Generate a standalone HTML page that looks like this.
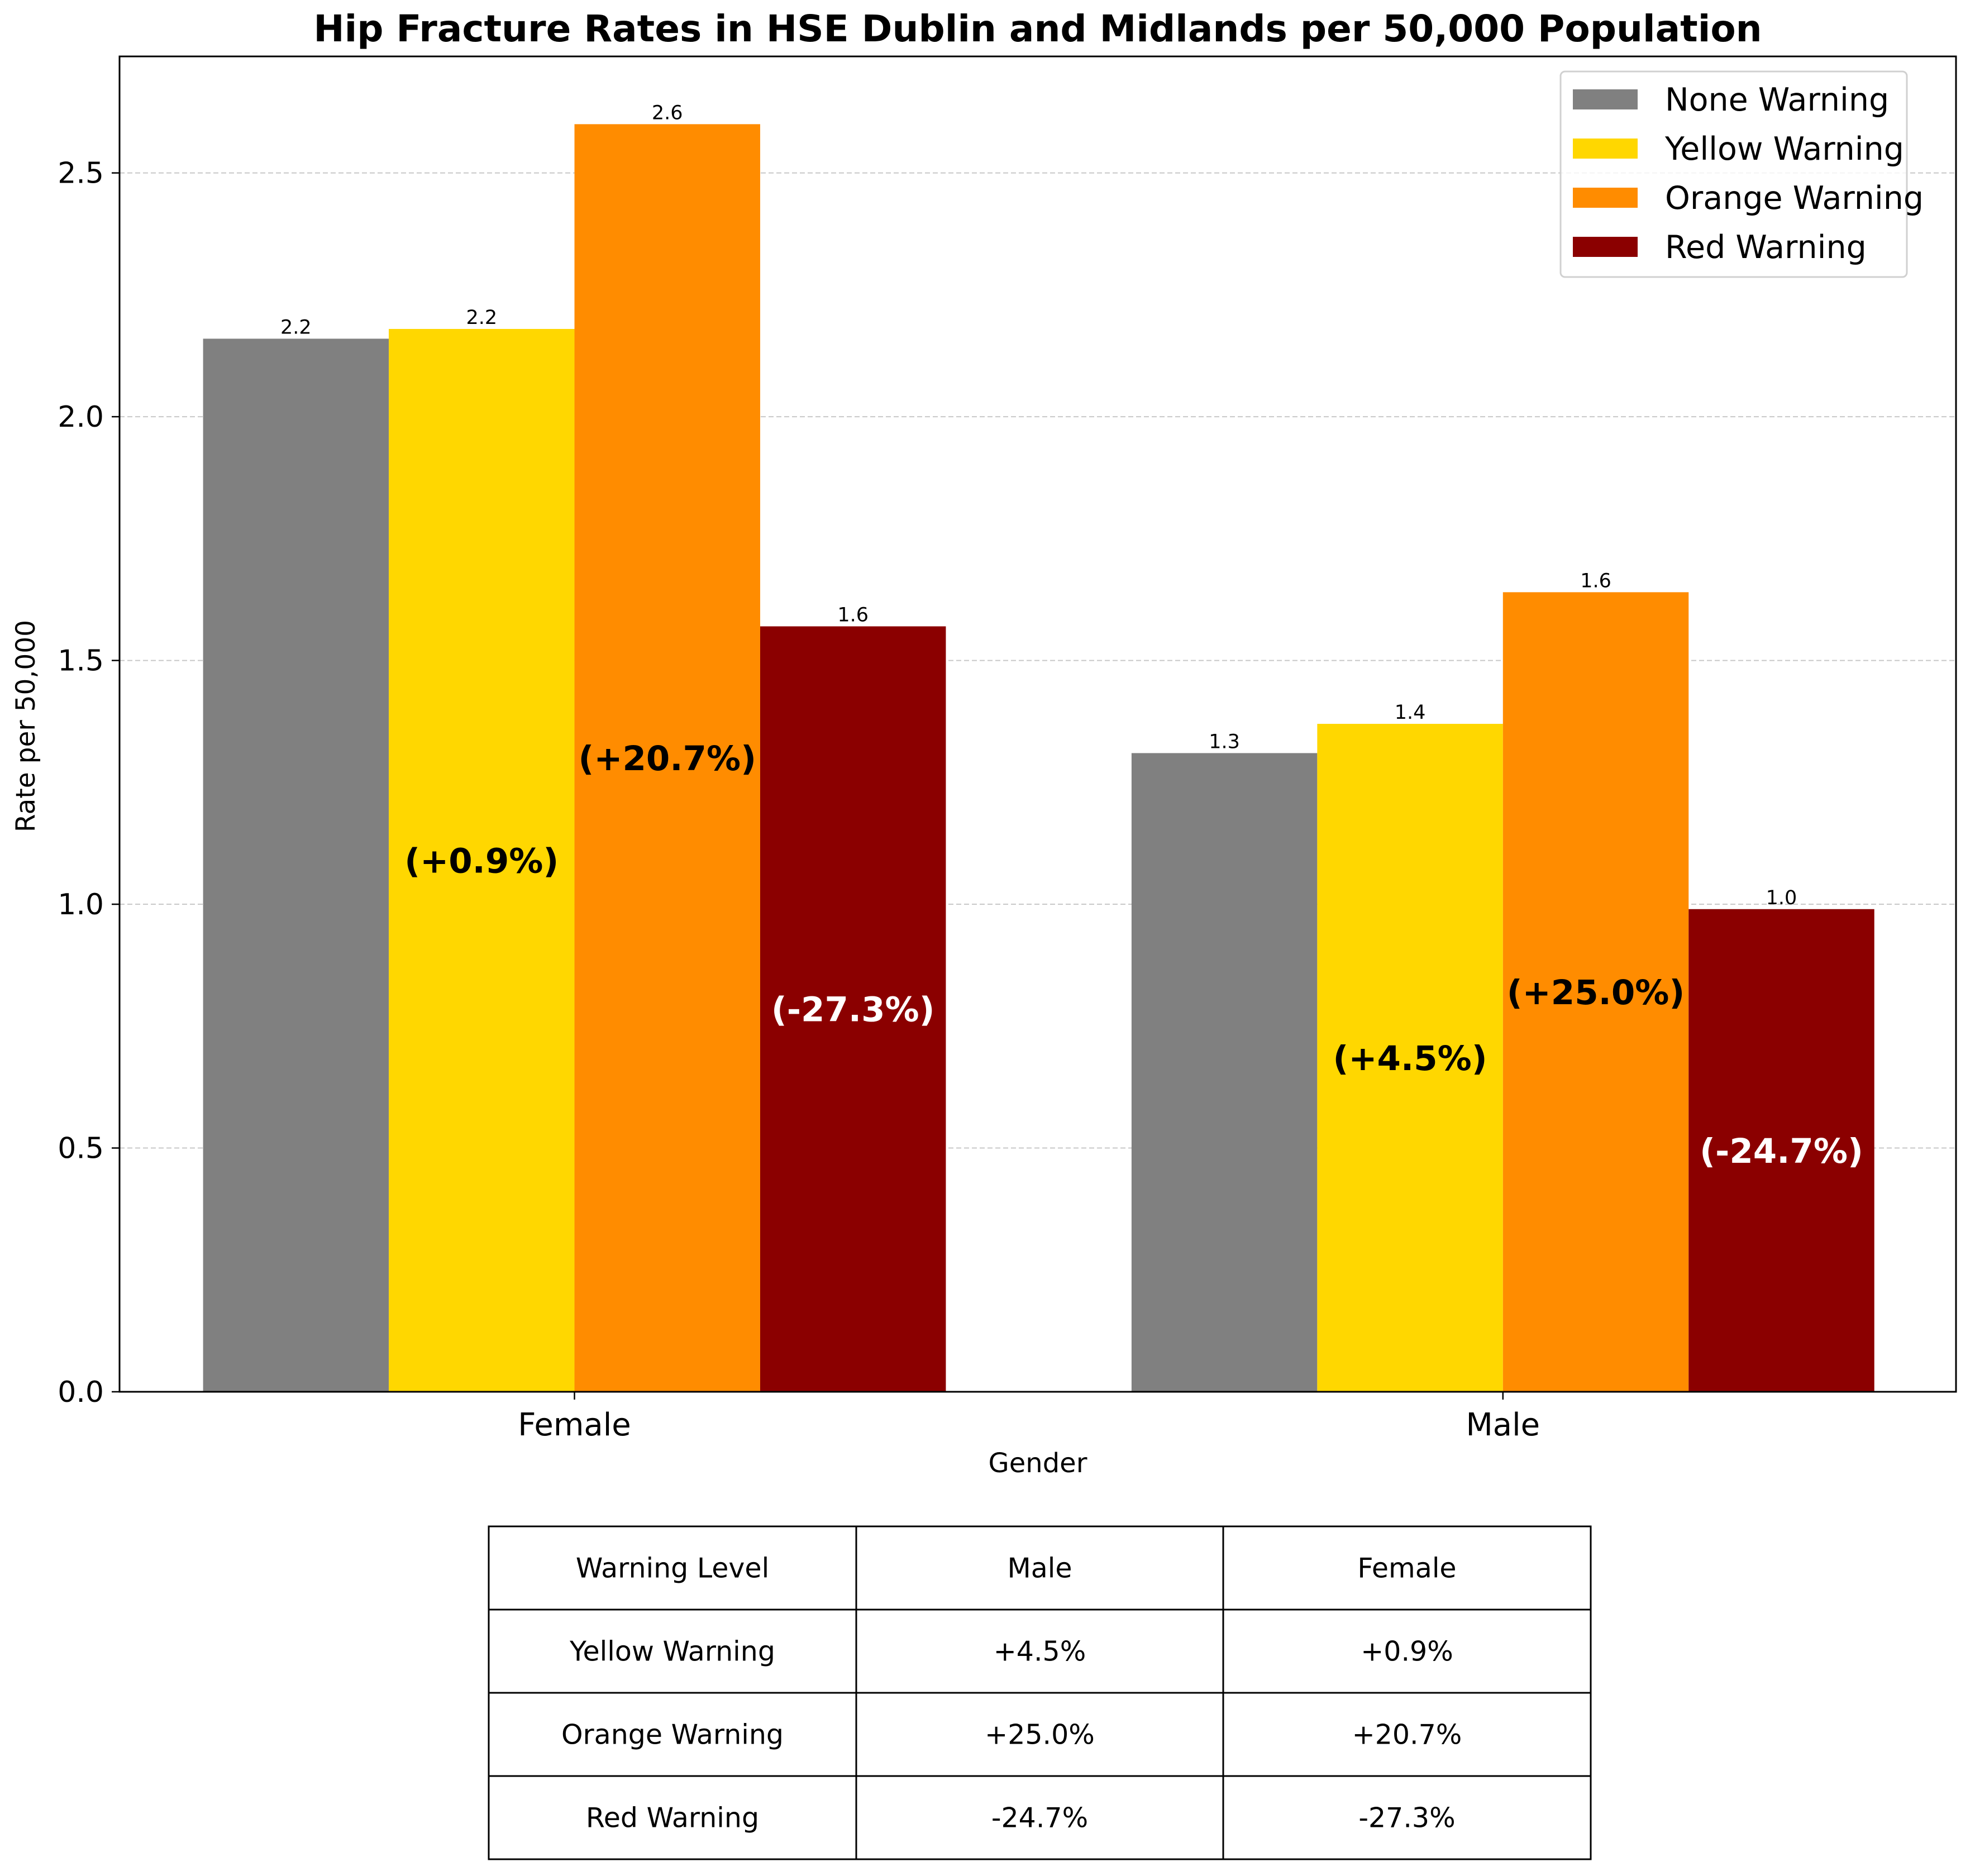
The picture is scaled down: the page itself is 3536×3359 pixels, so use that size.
<!DOCTYPE html>
<html><head><meta charset="utf-8">
<style>
html,body{margin:0;padding:0;background:#fff;}
svg{display:block;font-family:"DejaVu Sans","Liberation Sans",sans-serif;}
</style></head>
<body>
<svg id="chart" width="3536" height="3359" viewBox="0 0 3536 3359" xmlns="http://www.w3.org/2000/svg">
<rect width="3536" height="3359" fill="#fff"/>
<text x="1858" y="74" text-anchor="middle" font-size="66" font-weight="bold">Hip Fracture Rates in HSE Dublin and Midlands per 50,000 Population</text>
<g id="grid"></g>
<g id="bars"></g>
<g id="labels"></g>
<rect x="214" y="101" width="3288" height="2391" fill="none" stroke="#000" stroke-width="3"/>
<g id="axes"></g>
<text transform="translate(62,1300) rotate(-90)" text-anchor="middle" font-size="47">Rate per 50,000</text>
<text x="1858" y="2636" text-anchor="middle" font-size="48">Gender</text>
<g id="legend">
<rect x="2794" y="128" width="620" height="368" rx="8" fill="#fff" fill-opacity="0.8" stroke="#d0d0d0" stroke-width="3"/>
</g>
<g id="table"></g>
</svg>
<script>
const categories = ["Female", "Male"];
const seriesNames = ["None Warning", "Yellow Warning", "Orange Warning", "Red Warning"];
const noneValues = [2.16, 1.31];
const yellowValues = [2.18, 1.37];
const orangeValues = [2.60, 1.64];
const redValues = [1.57, 0.99];
const pctYellow = ["(+0.9%)", "(+4.5%)"];
const pctOrange = ["(+20.7%)", "(+25.0%)"];
const pctRed = ["(-27.3%)", "(-24.7%)"];
const yTicks = [0, 0.5, 1.0, 1.5, 2.0, 2.5];
const tableRows = [
  ["Warning Level", "Male", "Female"],
  ["Yellow Warning", "+4.5%", "+0.9%"],
  ["Orange Warning", "+25.0%", "+20.7%"],
  ["Red Warning", "-24.7%", "-27.3%"]
];

const NS = "http://www.w3.org/2000/svg";
const colors = ["#808080", "#FFD700", "#FF8C00", "#8B0000"];
const pctColors = [null, "#000", "#000", "#fff"];
const X0 = 214, X1 = 3502, Y0 = 2492, Y1 = 101;
const xMin = -0.49, xMax = 1.488, yMin = 0, yMax = 2.739;
const xs = v => X0 + (v - xMin) / (xMax - xMin) * (X1 - X0);
const ys = v => Y0 - (v - yMin) / (yMax - yMin) * (Y0 - Y1);
const barW = 0.2;
function mk(tag, attrs, parent, text) {
  const e = document.createElementNS(NS, tag);
  for (const k in attrs) e.setAttribute(k, attrs[k]);
  if (text !== undefined) e.textContent = text;
  parent.appendChild(e);
  return e;
}
const grid = document.getElementById("grid");
const bars = document.getElementById("bars");
const labels = document.getElementById("labels");
const axes = document.getElementById("axes");
yTicks.forEach(t => {
  const y = ys(t);
  if (t > 0) {
    const g = mk("line", {x1: X0, x2: X1, y1: y, y2: y, stroke: "#b0b0b0", "stroke-width": 2, "stroke-dasharray": "9,5", "stroke-opacity": 0.7}, grid);
    
    
  }
  const tk = mk("line", {x1: X0 - 14, x2: X0, y1: y, y2: y, stroke: "#000", "stroke-width": 2.5}, axes);
  
  
  const tl = mk("text", {x: X0 - 28, y: y + 18, "text-anchor": "end", "font-size": 52}, axes, t.toFixed(1));
  
  
});
const allSeries = [noneValues, yellowValues, orangeValues, redValues];
const allPct = [null, pctYellow, pctOrange, pctRed];
categories.forEach((c, ci) => {
  const tk = mk("line", {x1: xs(ci), x2: xs(ci), y1: Y0, y2: Y0 + 14, stroke: "#000", "stroke-width": 2.5}, axes);
  
  
  const tl = mk("text", {x: xs(ci), y: Y0 + 78, "text-anchor": "middle", "font-size": 56}, axes, c);
  
  
  allSeries.forEach((vals, si) => {
    const v = vals[ci];
    const left = ci + (si - 2) * barW;
    const x = xs(left), w = xs(left + barW) - xs(left);
    const r = mk("rect", {x: x, y: ys(v), width: w, height: ys(0) - ys(v), fill: colors[si]}, bars);
    
    
    const vl = mk("text", {x: x + w / 2, y: ys(v) - 9, "text-anchor": "middle", "font-size": 35}, labels, v.toFixed(1));
    
    
    if (allPct[si]) {
      const pl = mk("text", {x: x + w / 2, y: ys(v / 2) + 22, "text-anchor": "middle", "font-size": 61, "font-weight": "bold", fill: pctColors[si]}, labels, allPct[si][ci]);
      
      
    }
  });
});
const legend = document.getElementById("legend");
seriesNames.forEach((n, i) => {
  const cy = 178 + i * 88;
  const sw = mk("rect", {x: 2816, y: cy - 18, width: 116, height: 36, fill: colors[i]}, legend);
  
  
  const lt = mk("text", {x: 2981, y: cy + 20, "font-size": 57}, legend, n);
  
  
});
const table = document.getElementById("table");
const TX = [875, 1533, 2190, 2848], TY0 = 2733, RH = 149;
tableRows.forEach((row, ri) => {
  row.forEach((cell, ci) => {
    const r = mk("rect", {x: TX[ci], y: TY0 + ri * RH, width: TX[ci + 1] - TX[ci], height: RH, fill: "#fff", stroke: "#000", "stroke-width": 3}, table);
    
    
    const t = mk("text", {x: (TX[ci] + TX[ci + 1]) / 2, y: TY0 + ri * RH + RH / 2 + 17, "text-anchor": "middle", "font-size": 49}, table, cell);
    
    
  });
});
</script>
</body></html>
